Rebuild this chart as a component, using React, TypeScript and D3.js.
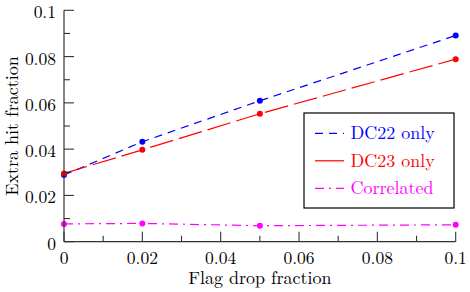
import React from "react";
import * as d3 from "d3";

const flagDrop = [0, 0.02, 0.05, 0.1];
const dc22 = [0.0288, 0.0432, 0.0609, 0.0891];
const dc23 = [0.0295, 0.0397, 0.0553, 0.0789];
const correlated = [0.0077, 0.0079, 0.0069, 0.0073];
const xTicks = [0, 0.02, 0.04, 0.06, 0.08, 0.1];
const yTicks = [0, 0.02, 0.04, 0.06, 0.08, 0.1];
const xMinor = [0.01, 0.03, 0.05, 0.07, 0.09];
const yMinor = [0.01, 0.03, 0.05, 0.07, 0.09];
const tickFmt = (v: number) => (v === 0 ? "0" : String(+v.toFixed(2)));

const series = [
  { name: "DC22 only", values: dc22, color: "#0000ff", dash: "8,6" },
  { name: "DC23 only", values: dc23, color: "#ff0000", dash: "24,6" },
  { name: "Correlated", values: correlated, color: "#ff00ff", dash: "9,5,2,5" },
];

export default function App() {
  const W = 470, H = 292;
  const x = d3.scaleLinear().domain([0, 0.1]).range([64, 455.7]);
  const y = d3.scaleLinear().domain([0, 0.1]).range([241.7, 10.3]);
  const font = "Latin Modern Roman";
  const line = (vals: number[]) =>
    d3.line<number>().x((_, i) => x(flagDrop[i])).y((d) => y(d))(vals) || "";
  const legX = 304, legY = 113, legW = 150, legH = 95;
  const axisColor = "#333";
  const ts = { fontFamily: font, fontSize: 17.5 };
  const ls = { fontFamily: font, fontSize: 18 };
  return (
    <svg width={W} height={H} style={{ position: "absolute", left: 0, top: 0 }}>
      <rect width={W} height={H} fill="#fff" />
      {series.map((s) => (
        <g key={s.name}>
          <path d={line(s.values)} fill="none" stroke={s.color} strokeWidth={1.2} strokeDasharray={s.dash} />
          {s.values.map((v, i) => (
            <circle key={i} cx={x(flagDrop[i])} cy={y(v)} r={3} fill={s.color} />
          ))}
        </g>
      ))}
      <line x1={x(0)} x2={x(0)} y1={y(0.1)} y2={y(0)} stroke={axisColor} strokeWidth={1.2} />
      <line x1={x(0)} x2={x(0.1)} y1={y(0)} y2={y(0)} stroke={axisColor} strokeWidth={1.2} />
      {yTicks.map((t) => (
        <g key={"y" + t}>
          <line x1={x(0)} x2={x(0) + 10} y1={y(t)} y2={y(t)} stroke={axisColor} strokeWidth={1.1} />
          <text x={56} y={y(t) + 8} textAnchor="end" style={ts} fill="#000">{tickFmt(t)}</text>
        </g>
      ))}
      {yMinor.map((t) => (
        <line key={"ym" + t} x1={x(0)} x2={x(0) + 6} y1={y(t)} y2={y(t)} stroke={axisColor} strokeWidth={1.1} />
      ))}
      {xTicks.map((t) => (
        <g key={"x" + t}>
          <line x1={x(t)} x2={x(t)} y1={y(0)} y2={y(0) - 10} stroke={axisColor} strokeWidth={1.1} />
          <text x={x(t)} y={263.5} textAnchor="middle" style={ts} fill="#000">{tickFmt(t)}</text>
        </g>
      ))}
      {xMinor.map((t) => (
        <line key={"xm" + t} x1={x(t)} x2={x(t)} y1={y(0)} y2={y(0) - 6} stroke={axisColor} strokeWidth={1.1} />
      ))}
      <text x={(x(0) + x(0.1)) / 2} y={284} textAnchor="middle" style={ls} fill="#000">Flag drop fraction</text>
      <text transform={`translate(17.5,${(y(0) + y(0.1)) / 2}) rotate(-90)`} textAnchor="middle" style={ls} fill="#000">Extra hit fraction</text>
      <rect x={legX} y={legY} width={legW} height={legH} fill="#fff" stroke="#000" strokeWidth={1.2} />
      {series.map((s, i) => {
        const cy = 133.3 + i * 27.5;
        return (
          <g key={"l" + s.name}>
            <line x1={315} x2={344} y1={cy} y2={cy} stroke={s.color} strokeWidth={1.2}
              strokeDasharray={i === 0 ? "8,6" : i === 1 ? "" : "9,5,2,5"} />
            <text x={350.5} y={cy + 6} style={ls} fill={s.color}>{s.name}</text>
          </g>
        );
      })}
    </svg>
  );
}
